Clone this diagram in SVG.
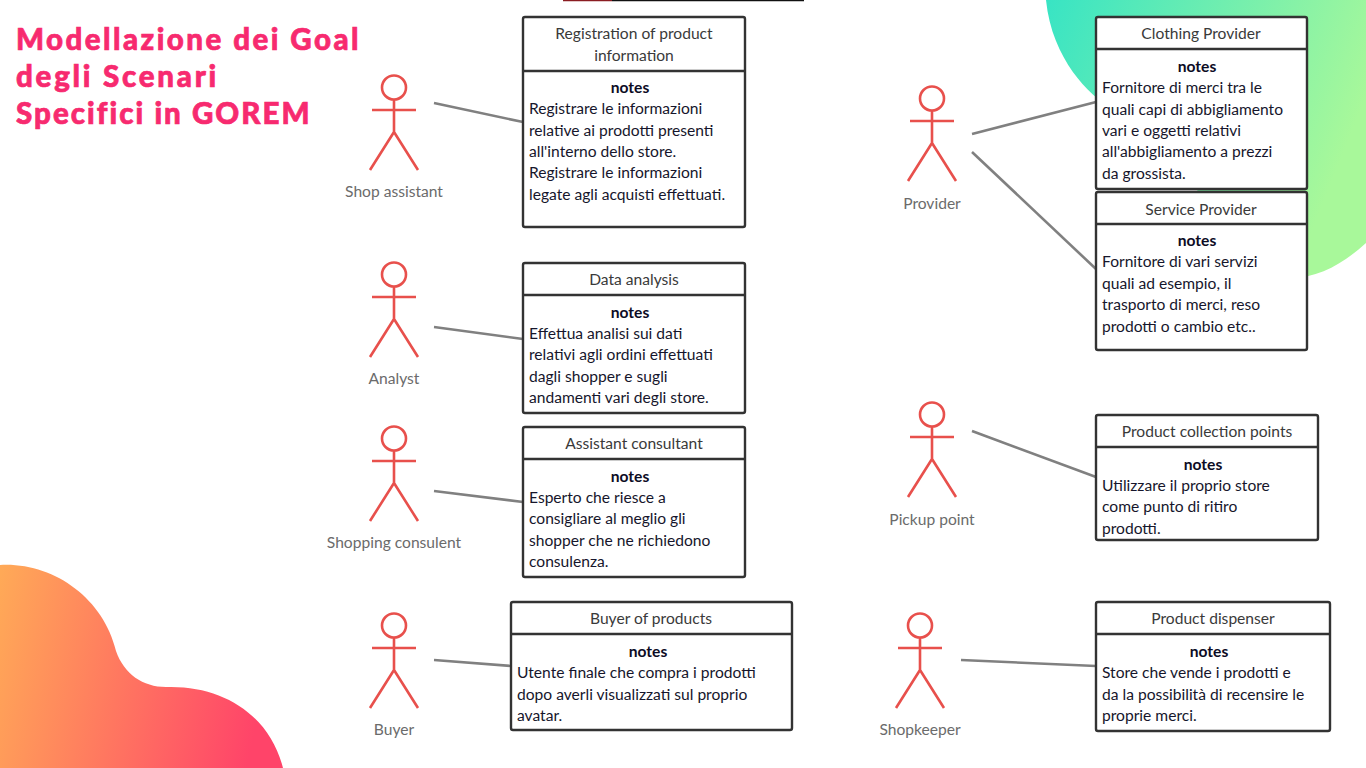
<svg xmlns="http://www.w3.org/2000/svg" width="1366" height="768" viewBox="0 0 1366 768">
<style>
text{font-family:Lato,"Noto Sans",sans-serif}
.title{font-family:Lato,sans-serif;font-weight:900;font-size:29.5px;letter-spacing:2.45px;fill:#f72a6f;stroke:#f72a6f;stroke-width:.7px}
.lbl{font-size:15.6px;fill:#6b6b6b;text-anchor:middle}
.hd{font-size:15.6px;fill:#3a3a3a;text-anchor:middle}
.nt{font-size:15.6px;font-weight:700;fill:#0c0c24;text-anchor:middle}
.bd{font-size:15.6px;fill:#16162c}
.box{fill:#fff;stroke:#333;stroke-width:2.4}
.sep{stroke:#333;stroke-width:2.4;fill:none}
.act{fill:none;stroke:#e8504c;stroke-width:2.6}
.con{stroke:#808080;stroke-width:2.6;fill:none}
</style>
<defs>
<linearGradient id="gO" x1="0" y1="0" x2="1" y2="0.15"><stop offset="0" stop-color="#ffaa57"/><stop offset="1" stop-color="#ff4469"/></linearGradient>
<linearGradient id="gG" x1="0" y1="0" x2="1" y2="0.35"><stop offset="0" stop-color="#38e4c4"/><stop offset="1" stop-color="#a8f89a"/></linearGradient>
<g id="actor"><circle cx="0" cy="-44.500" r="12"/><path d="M0-32.500V0M-22-22H22M-24 38 0 0 24 38"/></g>
</defs>
<path d="M1046 0C1052 60 1090 95 1110 108L1290 278C1320 278 1345 262 1366 243V0Z" fill="url(#gG)"/>
<path d="M0 565C52 562 103 597 116 651C124 674 143 687 166 687C224 685 270 716 283 768H0Z" fill="url(#gO)"/>
<path d="M563 .5H612" stroke="#8a1c22" stroke-width="1.5"/><path d="M612 .5H804" stroke="#111" stroke-width="1.5"/>
<g id="title" class="title"><text x="16" y="50">Modellazione dei Goal</text><text x="16" y="87" style="letter-spacing:2.75px">degli Scenari</text><text x="16" y="124" style="letter-spacing:2.05px">Specifici in GOREM</text></g>
<g id="connectors" class="con">
<path d="M434 103 523 122"/><path d="M434 327 523 339"/><path d="M434 491 523 502"/><path d="M434 660 511 666"/>
<path d="M972 134 1096 102"/><path d="M972 152 1096 269"/><path d="M972 431 1096 477"/><path d="M961 660 1096 666"/>
</g>
<g id="a1"><use href="#actor" class="act" x="394" y="132"/><text class="lbl" x="394" y="197">Shop assistant</text></g>
<g id="a2"><use href="#actor" class="act" x="394" y="319"/><text class="lbl" x="394" y="384">Analyst</text></g>
<g id="a3"><use href="#actor" class="act" x="394" y="483"/><text class="lbl" x="394" y="548">Shopping consulent</text></g>
<g id="a4"><use href="#actor" class="act" x="394" y="670"/><text class="lbl" x="394" y="735">Buyer</text></g>
<g id="a5"><use href="#actor" class="act" x="932" y="143"/><text class="lbl" x="932" y="208.500">Provider</text></g>
<g id="a6"><use href="#actor" class="act" x="932" y="459"/><text class="lbl" x="932" y="524.500">Pickup point</text></g>
<g id="a7"><use href="#actor" class="act" x="920" y="670"/><text class="lbl" x="920" y="735">Shopkeeper</text></g>
<g id="n1"><rect class="box" x="523" y="17" width="222" height="210" rx="2"/><path class="sep" d="M523 71H745"/>
<text class="hd" x="634" y="39">Registration of product</text><text class="hd" x="634" y="61">information</text><text class="nt" x="630" y="93">notes</text>
<text class="bd" x="529" y="114">Registrare le informazioni</text><text class="bd" x="529" y="136">relative ai prodotti presenti</text><text class="bd" x="529" y="157">all'interno dello store.</text><text class="bd" x="529" y="178">Registrare le informazioni</text><text class="bd" x="529" y="200">legate agli acquisti effettuati.</text></g>
<g id="n2"><rect class="box" x="523" y="263" width="222" height="150" rx="2"/><path class="sep" d="M523 295H745"/>
<text class="hd" x="634" y="285">Data analysis</text><text class="nt" x="630" y="318">notes</text>
<text class="bd" x="529" y="339">Effettua analisi sui dati</text><text class="bd" x="529" y="360">relativi agli ordini effettuati</text><text class="bd" x="529" y="382">dagli shopper e sugli</text><text class="bd" x="529" y="403">andamenti vari degli store.</text></g>
<g id="n3"><rect class="box" x="523" y="427" width="222" height="150" rx="2"/><path class="sep" d="M523 459H745"/>
<text class="hd" x="634" y="449">Assistant consultant</text><text class="nt" x="630" y="482">notes</text>
<text class="bd" x="529" y="503">Esperto che riesce a</text><text class="bd" x="529" y="524">consigliare al meglio gli</text><text class="bd" x="529" y="546">shopper che ne richiedono</text><text class="bd" x="529" y="567">consulenza.</text></g>
<g id="n4"><rect class="box" x="511" y="602" width="281" height="128" rx="2"/><path class="sep" d="M511 634H792"/>
<text class="hd" x="651" y="624">Buyer of products</text><text class="nt" x="648" y="657">notes</text>
<text class="bd" x="517" y="678">Utente finale che compra i prodotti</text><text class="bd" x="517" y="700">dopo averli visualizzati sul proprio</text><text class="bd" x="517" y="721">avatar.</text></g>
<g id="n5"><rect class="box" x="1096" y="17" width="211" height="172" rx="2"/><path class="sep" d="M1096 49H1307"/>
<text class="hd" x="1201" y="39">Clothing Provider</text><text class="nt" x="1197" y="72">notes</text>
<text class="bd" x="1102" y="93">Fornitore di merci tra le</text><text class="bd" x="1102" y="115">quali capi di abbigliamento</text><text class="bd" x="1102" y="136">vari e oggetti relativi</text><text class="bd" x="1102" y="157">all'abbigliamento a prezzi</text><text class="bd" x="1102" y="179">da grossista.</text></g>
<g id="n6"><rect class="box" x="1096" y="192" width="211" height="158" rx="2"/><path class="sep" d="M1096 224H1307"/>
<text class="hd" x="1201" y="214.500">Service Provider</text><text class="nt" x="1197" y="246">notes</text>
<text class="bd" x="1102" y="267">Fornitore di vari servizi</text><text class="bd" x="1102" y="289">quali ad esempio, il</text><text class="bd" x="1102" y="310">trasporto di merci, reso</text><text class="bd" x="1102" y="332">prodotti o cambio etc..</text></g>
<g id="n7"><rect class="box" x="1096" y="415" width="222" height="125" rx="2"/><path class="sep" d="M1096 447H1318"/>
<text class="hd" x="1207" y="437">Product collection points</text><text class="nt" x="1203" y="470">notes</text>
<text class="bd" x="1102" y="491">Utilizzare il proprio store</text><text class="bd" x="1102" y="512">come punto di ritiro</text><text class="bd" x="1102" y="534">prodotti.</text></g>
<g id="n8"><rect class="box" x="1096" y="602" width="234" height="129" rx="2"/><path class="sep" d="M1096 634H1330"/>
<text class="hd" x="1213" y="624">Product dispenser</text><text class="nt" x="1209" y="657">notes</text>
<text class="bd" x="1102" y="678">Store che vende i prodotti e</text><text class="bd" x="1102" y="700">da la possibilità di recensire le</text><text class="bd" x="1102" y="721">proprie merci.</text></g>
</svg>
